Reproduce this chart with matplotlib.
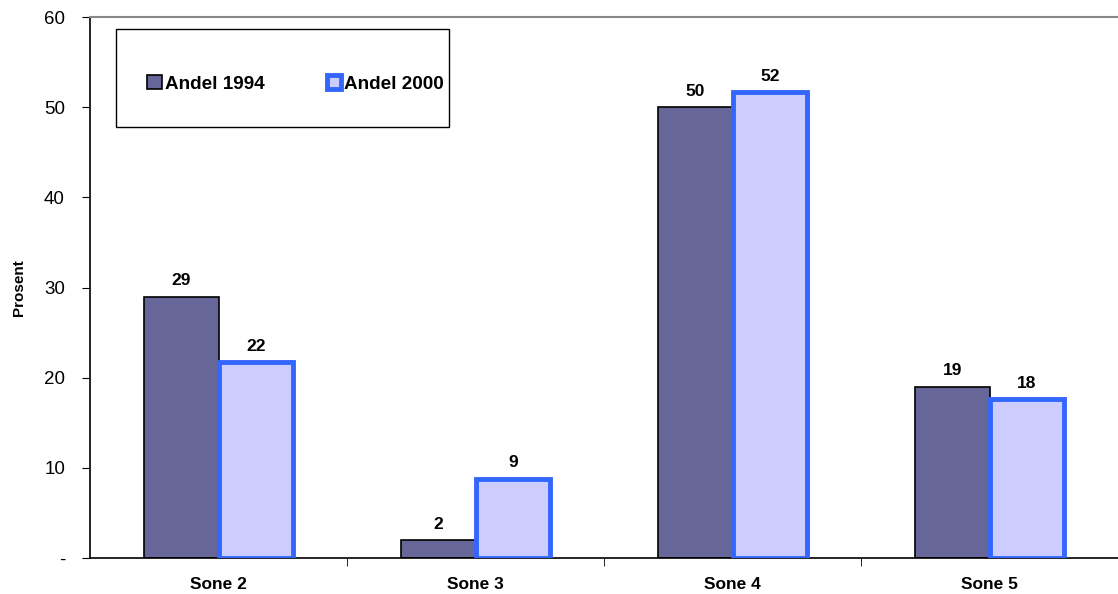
import numpy as np
import matplotlib.pyplot as plt
from matplotlib.patches import Rectangle

plt.rcParams['font.family'] = ['Liberation Sans', 'DejaVu Sans']

soner = ['Sone 2', 'Sone 3', 'Sone 4', 'Sone 5']
andel_1994 = [29.0, 2.0, 50.0, 19.0]
andel_2000 = [21.7, 8.8, 51.7, 17.6]
y_ticks = [0, 10, 20, 30, 40, 50, 60]
y_labels = ['-', '10', '20', '30', '40', '50', '60']

fig = plt.figure(figsize=(11.18, 5.94), dpi=100)
ax = fig.add_axes([90/1118, 36/594, 1028/1118, 541/594])

x = np.arange(len(soner))
w = 0.29

b1 = ax.bar(x - w/2, andel_1994, w, color='#666699', edgecolor='black', linewidth=1.2,
            label='Andel 1994', zorder=2)
b2 = ax.bar(x + w/2, andel_2000, w, color='#CCCCFF', edgecolor='#3366FF', linewidth=3.5,
            label='Andel 2000', zorder=3)

# verdier over søylene
for bars, vals in [(b1, andel_1994), (b2, andel_2000)]:
    for rect, v in zip(bars, vals):
        ax.annotate(f'{v:.0f}', (rect.get_x() + rect.get_width()/2, v),
                    xytext=(0, 6), textcoords='offset points', ha='center', va='bottom',
                    fontsize=12.5, fontweight='bold')

ax.set_xlim(-0.5, 3.5)
ax.set_ylim(0, 60)
ax.set_yticks(y_ticks)
ax.set_yticklabels(y_labels, fontsize=13.5)
ax.set_xticks(x)
ax.set_xticklabels(soner, fontsize=12.5, fontweight='bold')
ax.tick_params(axis='x', length=0, pad=14)
ax.set_xticks([0.5, 1.5, 2.5], minor=True)
ax.tick_params(axis='x', which='minor', length=6, direction='out')
ax.tick_params(axis='y', length=6, direction='out', pad=12)
ax.set_ylabel('Prosent', fontsize=11, fontweight='bold', labelpad=13)

ax.spines['right'].set_visible(False)
ax.spines['top'].set_color('#888888')
ax.spines['top'].set_linewidth(1.5)
ax.spines['left'].set_linewidth(1.2)
ax.spines['bottom'].set_linewidth(1.2)

# legendeboks
lx0, lx1 = (116-90)/1028, (449-90)/1028
ly0, ly1 = (558-127)/541, (558-29)/541
ax.add_patch(Rectangle((lx0, ly0), lx1 - lx0, ly1 - ly0, transform=ax.transAxes,
                       facecolor='white', edgecolor='black', linewidth=1, zorder=5,
                       clip_on=False))
leg = ax.legend(loc='center left', bbox_to_anchor=((147-90)/1028, (558-84)/541),
                ncol=2, frameon=False, prop={'size': 13.6, 'weight': 'bold'},
                borderpad=0, borderaxespad=0,
                handlelength=0.78, handleheight=0.78, handletextpad=0.15, columnspacing=3.3)
leg.set_zorder(6)

fig.savefig('out.png', dpi=100)
